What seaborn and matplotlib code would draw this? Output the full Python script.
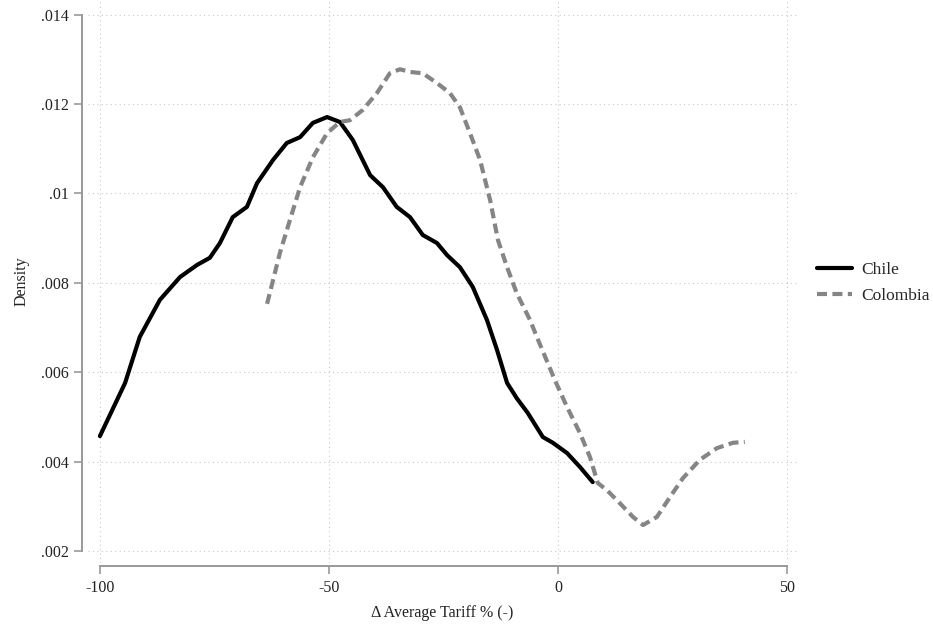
import matplotlib
matplotlib.use('Agg')
import matplotlib.pyplot as plt
import seaborn as sns
import pandas as pd

# kernel density estimates
chile_x = [-100.0, -94.5, -91.3, -86.9, -82.5, -78.8, -76.0, -73.8, -71.0, -67.9,
           -65.7, -62.2, -59.2, -56.3, -53.5, -50.4, -47.6, -44.8, -41.0, -38.2,
           -35.2, -32.3, -29.5, -26.4, -24.2, -21.4, -18.6, -15.5, -13.3, -11.1,
           -9.0, -6.6, -3.3, -1.1, 2.0, 4.8, 7.6]
chile_y = [.00457, .00576, .00679, .00762, .00813, .00840, .00856, .00889, .00947, .00970,
           .01023, .01075, .01113, .01126, .01158, .01171, .01160, .01120, .01041, .01014,
           .00970, .00947, .00907, .00889, .00862, .00835, .00791, .00717, .00650, .00576,
           .00542, .00509, .00455, .00442, .00419, .00388, .00354]

colombia_x = [-63.5, -60.7, -58.5, -56.3, -53.5, -50.4, -47.6, -45.4, -42.6, -39.5,
              -36.7, -34.5, -32.3, -29.5, -26.4, -23.6, -21.4, -19.2, -17.0, -14.8,
              -13.1, -11.1, -9.0, -6.1, -4.6, -0.7, 2.0, 4.8, 7.0, 8.7,
              10.7, 13.5, 16.4, 18.6, 21.6, 24.5, 27.3, 31.0, 34.7, 38.2, 40.8]
colombia_y = [.00753, .00867, .00941, .01014, .01081, .01135, .01160, .01164, .01187, .01225,
              .01269, .01278, .01272, .01269, .01247, .01225, .01193, .01135, .01075, .00985,
              .00896, .00835, .00777, .00717, .00679, .00583, .00522, .00464, .00410, .00352,
              .00336, .00307, .00276, .00258, .00276, .00321, .00363, .00404, .00430, .00442, .00444]

x_ticks = [-100, -50, 0, 50]
y_ticks = [.002, .004, .006, .008, .01, .012, .014]
y_tick_labels = ['.002', '.004', '.006', '.008', '.01', '.012', '.014']

sns.set_style('white')
plt.rcParams['font.family'] = ['Liberation Serif', 'DejaVu Serif']

fig = plt.figure(figsize=(9.33, 6.29), dpi=100)
ax = fig.add_axes([88 / 933, 1 - 563 / 629, (797 - 88) / 933, 563 / 629])

chile = pd.DataFrame({'x': chile_x, 'y': chile_y})
colombia = pd.DataFrame({'x': colombia_x, 'y': colombia_y})
sns.lineplot(data=chile, x='x', y='y', ax=ax, color='black', linewidth=3,
             label='Chile', sort=False, solid_joinstyle='round')
sns.lineplot(data=colombia, x='x', y='y', ax=ax, color='#858585', linewidth=3,
             linestyle=(0, (2.4, 1.3)), label='Colombia', sort=False)

ax.set_xlim(-102.6, 52.2)
ax.set_ylim(.00173, .01433)
ax.set_xticks(x_ticks)
ax.set_xticklabels([str(t) for t in x_ticks])
ax.set_yticks(y_ticks)
ax.set_yticklabels(y_tick_labels)

ax.grid(True, linestyle=(0, (1, 3)), color='#c8c8c8', linewidth=0.8)
ax.tick_params(direction='out', length=6, width=1.2, color='#999999',
               labelsize=11.5, labelcolor='#222222', left=True, bottom=True, pad=4)
for side in ['left', 'bottom']:
    ax.spines[side].set_color('#999999')
    ax.spines[side].set_linewidth(1.4)
sns.despine(ax=ax, offset={'left': 4, 'bottom': 2}, trim=True)

ax.set_xlabel('Δ Average Tariff % (-)', fontsize=11.5, color='#222222', labelpad=7)
ax.set_ylabel('Density', fontsize=11.5, color='#222222', labelpad=8)

ax.get_legend().remove()
handles, labels = ax.get_legend_handles_labels()
fig.legend(handles, labels, loc='center left', bbox_to_anchor=(817 / 933, 1 - 283 / 629),
           frameon=False, fontsize=12.5, handlelength=2.0, handletextpad=0.55,
           labelspacing=0.6, borderpad=0, borderaxespad=0)

plt.savefig('out.png', dpi=100)
